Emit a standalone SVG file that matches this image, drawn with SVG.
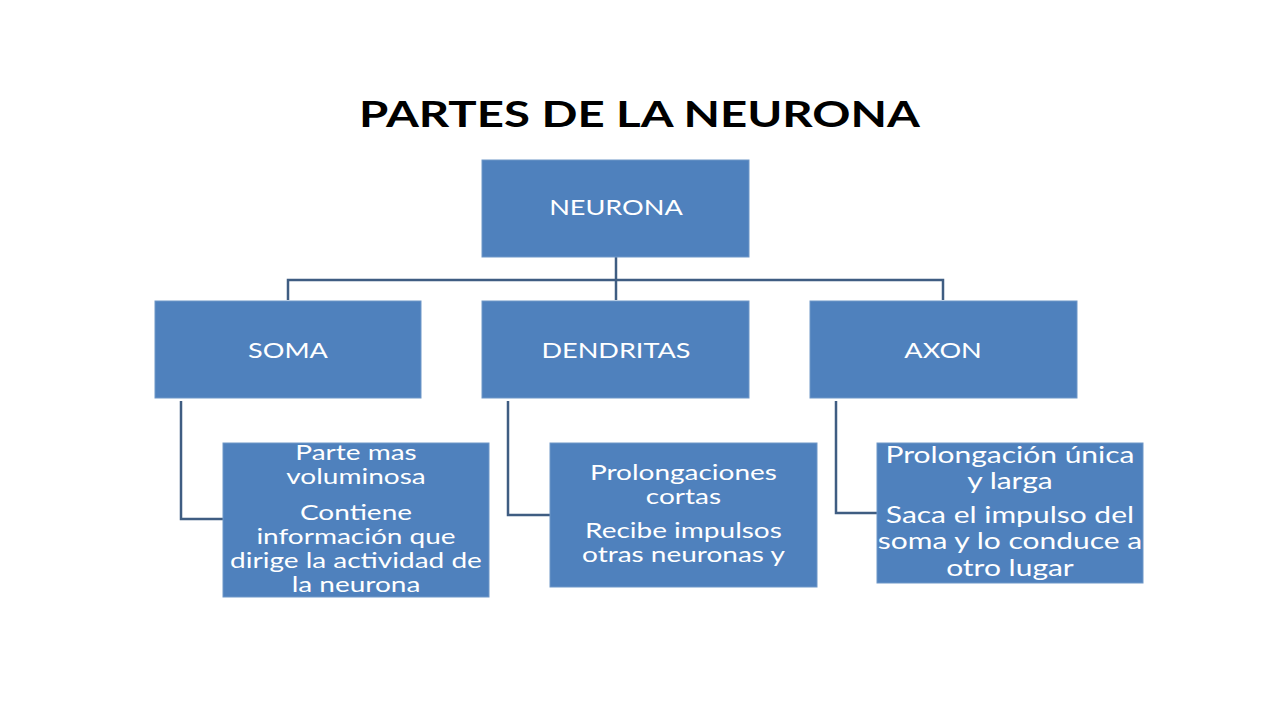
<svg xmlns="http://www.w3.org/2000/svg" width="1280" height="720" viewBox="0 0 1280 720">
<style>
.box{fill:#4F81BD;stroke:#6F97C8;stroke-width:1}
.conn{fill:none;stroke:#3F5D82;stroke-width:2.5}
.lbl{font-family:Lato,"Liberation Sans",sans-serif;font-size:20.3px;fill:#FFFFFF;text-anchor:middle}
.body{font-family:Lato,"Liberation Sans",sans-serif;font-size:21px;fill:#FFFFFF;text-anchor:middle}
.big{font-size:22.5px}
.title{font-family:Lato,"Liberation Sans",sans-serif;font-weight:bold;font-size:35.5px;fill:#000000;text-anchor:middle}
</style>
<rect width="1280" height="720" fill="#FFFFFF"/>
<g id="title" transform="scale(1.3333,1)">
<text class="title" x="479.6" y="127">PARTES DE LA NEURONA</text>
</g>
<g id="connectors">
<path class="conn" d="M616,257 V280"/>
<path class="conn" d="M288,300 V280 H943 V300"/>
<path class="conn" d="M616,280 V300"/>
<path class="conn" d="M181,401 V519 H223"/>
<path class="conn" d="M508,401 V515 H550"/>
<path class="conn" d="M836,401 V513 H877"/>
</g>
<g id="neurona">
<rect class="box" x="482" y="160" width="267" height="97"/>
<g transform="scale(1.3333,1)"><text class="lbl" x="462" y="215">NEURONA</text></g>
</g>
<g id="soma">
<rect class="box" x="155" y="301" width="266" height="97"/>
<g transform="scale(1.3333,1)"><text class="lbl" x="216" y="358">SOMA</text></g>
</g>
<g id="dendritas">
<rect class="box" x="482" y="301" width="267" height="97"/>
<g transform="scale(1.3333,1)"><text class="lbl" x="462" y="358">DENDRITAS</text></g>
</g>
<g id="axon">
<rect class="box" x="810" y="301" width="267" height="97"/>
<g transform="scale(1.3333,1)"><text class="lbl" x="707.3" y="358">AXON</text></g>
</g>
<g id="soma-desc">
<rect class="box" x="223" y="443" width="266" height="154"/>
<g transform="scale(1.3333,1)">
<text class="body" x="267" y="460">Parte mas</text>
<text class="body" x="267" y="484">voluminosa</text>
<text class="body" x="267" y="520">Contiene</text>
<text class="body" x="267" y="544">información que</text>
<text class="body" x="267" y="568">dirige la actividad de</text>
<text class="body" x="267" y="592">la neurona</text>
</g>
</g>
<g id="dendritas-desc">
<rect class="box" x="550" y="443" width="267" height="144"/>
<g transform="scale(1.3333,1)">
<text class="body" x="512.6" y="480">Prolongaciones</text>
<text class="body" x="512.6" y="504">cortas</text>
<text class="body" x="512.6" y="538">Recibe impulsos</text>
<text class="body" x="512.6" y="562">otras neuronas y</text>
</g>
</g>
<g id="axon-desc">
<rect class="box" x="877" y="443" width="266" height="140"/>
<g transform="scale(1.3333,1)">
<text class="body big" x="757.5" y="463">Prolongación única</text>
<text class="body big" x="757.5" y="489">y larga</text>
<text class="body big" x="757.5" y="523">Saca el impulso del</text>
<text class="body big" x="757.5" y="549">soma y lo conduce a</text>
<text class="body big" x="757.5" y="576">otro lugar</text>
</g>
</g>
</svg>
